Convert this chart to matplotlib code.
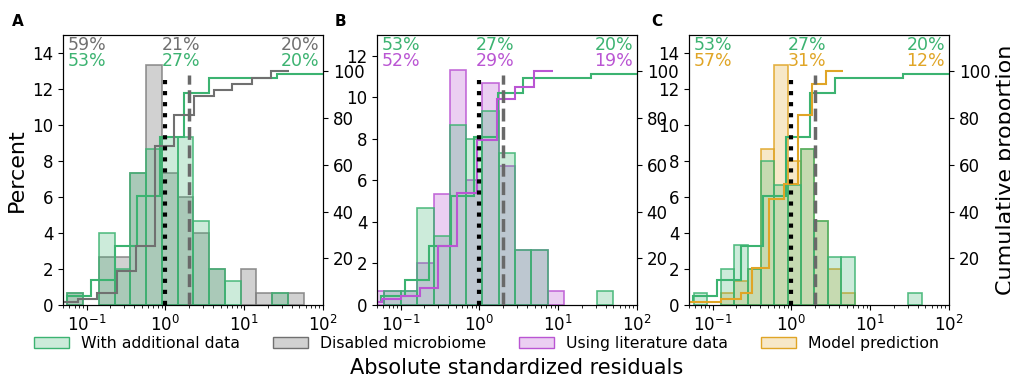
import numpy as np
import matplotlib.pyplot as plt
from matplotlib.colors import to_rgba
from matplotlib.patches import Patch

green = '#3cb371'
grey = '#707070'
purple = '#ba55d3'
orange = '#e0a526'

# panel A: common bin edges, percent per bin
edges_a = [0.0569, 0.0902, 0.143, 0.226, 0.359, 0.569, 0.902, 1.43, 2.26, 3.59,
           5.69, 9.02, 14.3, 22.6, 35.9, 56.9]
green_a = [0.67, 0, 4.0, 2.0, 7.33, 8.67, 9.33, 9.33, 4.67, 2.0, 1.33, 0, 0, 0.67, 0]
grey_a = [0.67, 0, 2.67, 2.67, 7.33, 13.33, 7.33, 6.0, 4.0, 2.0, 0, 2.0, 0.67, 0.67, 0.67]

# panel B
edges_b = [0.0386, 0.0622, 0.100, 0.162, 0.261, 0.420, 0.677, 1.09, 1.76, 2.84,
           4.57, 7.36, 11.9, 19.1, 30.8, 49.7]
green_b = [0, 0.67, 0.67, 4.67, 3.33, 8.67, 8.0, 9.33, 7.33, 2.67, 2.67, 0, 0, 0, 0.67]
purple_b = [0.67, 0.67, 0.67, 2.0, 5.33, 11.33, 6.0, 10.67, 6.67, 2.67, 2.67, 0.67, 0, 0, 0]

# panel C
edges_c = [0.0579, 0.0857, 0.127, 0.188, 0.277, 0.410, 0.607, 0.897, 1.33, 1.96,
           2.90, 4.30, 6.35, 9.40, 13.9, 20.6, 30.4, 45.0]
green_c = [0.67, 0, 2.0, 3.33, 2.0, 8.0, 6.67, 6.67, 8.67, 4.67, 2.67, 2.67, 0, 0, 0, 0, 0.67]
orange_c = [0, 0, 0.67, 1.33, 2.0, 8.67, 13.33, 8.0, 8.67, 4.67, 2.0, 0.67, 0, 0, 0, 0, 0]

# cumulative curves (step edges, cumulative percent)
green_cum_x = [0.05, 0.057, 0.113, 0.23, 0.44, 0.85, 1.71, 3.56, 26.3, 100]
green_cum = [1.3, 4.0, 10.7, 25.3, 46.7, 72.0, 90.7, 97.3, 98.7]
grey_cum_x = [0.05, 0.078, 0.136, 0.24, 0.42, 0.74, 1.30, 2.29, 4.12, 7.08, 12.6, 21.9, 37.2]
grey_cum = [1.3, 2.7, 5.3, 14.7, 25.3, 68.0, 81.3, 89.3, 92.0, 94.7, 97.3, 100]
purple_cum_x = [0.05, 0.0575, 0.102, 0.174, 0.295, 0.525, 0.933, 1.66, 2.82, 4.9, 8.71]
purple_cum = [1.3, 2.7, 4.0, 7.3, 25.3, 48.0, 70.7, 88.0, 93.3, 100]
orange_cum_x = [0.05, 0.126, 0.229, 0.316, 0.525, 0.813, 1.20, 1.82, 2.75, 4.47]
orange_cum = [1.3, 2.7, 5.3, 16.0, 45.3, 52.0, 81.3, 94.7, 100]

# fractions below 1, between 1 and 2, above 2
pct_green = ['53%', '27%', '20%']
pct_grey = ['59%', '21%', '20%']
pct_purple = ['52%', '29%', '19%']
pct_orange = ['57%', '31%', '12%']

fig = plt.figure(figsize=(10.1, 3.79), dpi=100)
lefts = [63 / 1010, 377 / 1010, 689 / 1010]
axes = [fig.add_axes([l, 0.1953, 0.2574, 0.7124]) for l in lefts]


def hist(ax, edges, vals, color, fa):
    e = np.array(edges)
    v = np.array(vals)
    keep = v > 0
    ax.bar(e[:-1][keep], v[keep], width=np.diff(e)[keep], align='edge',
           facecolor=to_rgba(color, fa), edgecolor=to_rgba(color, 0.85), linewidth=1.2)


panels = [
    (edges_a, green_a, grey_a, 'grey', 0.36, grey, grey_cum_x, grey_cum, pct_grey, 15, True),
    (edges_b, green_b, purple_b, purple, 0.28, purple, purple_cum_x, purple_cum, pct_purple, 13, False),
    (edges_c, green_c, orange_c, orange, 0.25, orange, orange_cum_x, orange_cum, pct_orange, 15, False),
]

for i, (ax, p) in enumerate(zip(axes, panels)):
    edges, gv, ov, ocol, ofa, lcol, cx, cy, opct, ytop, other_first = p
    hist(ax, edges, ov, ocol, ofa)
    hist(ax, edges, gv, green, 0.26)
    ax.set_xscale('log')
    ax.set_xlim(0.05, 100)
    ax.set_ylim(0, ytop)
    ax.set_yticks(np.arange(0, ytop, 2))
    ax.tick_params(labelsize=12)

    ax2 = ax.twinx()
    ax2.set_ylim(0, 115.6)
    ax2.set_yticks([20, 40, 60, 80, 100])
    ax2.tick_params(labelsize=12)
    ax2.axvline(1, ymax=0.85, color='black', ls=':', lw=3)
    ax2.axvline(2, ymax=0.85, color='dimgray', ls='--', lw=2.5)
    ax2.stairs(green_cum, green_cum_x, baseline=None, color=green, lw=1.5)
    ax2.stairs(cy, cx, baseline=None, color=lcol, lw=1.5)

    if other_first:
        rows = [(opct, lcol), (pct_green, green)]
    else:
        rows = [(pct_green, green), (opct, lcol)]
    for (labels, col), yy in zip(rows, [0.963, 0.905]):
        ax2.text(0.018, yy, labels[0], transform=ax2.transAxes, color=col,
                 fontsize=12.5, va='center', ha='left')
        ax2.text(0.9, yy, labels[1], transform=ax2.get_xaxis_transform(), color=col,
                 fontsize=12.5, va='center', ha='left')
        ax2.text(0.985, yy, labels[2], transform=ax2.transAxes, color=col,
                 fontsize=12.5, va='center', ha='right')
    if i == 2:
        ax2.set_ylabel('Cumulative proportion', fontsize=16)

axes[0].set_ylabel('Percent', fontsize=16)

for x, letter in zip([0.018, 0.337, 0.650], 'ABC'):
    fig.text(x, 0.942, letter, fontsize=11, fontweight='bold', ha='center', va='center')

handles = [
    Patch(facecolor=to_rgba(green, 0.26), edgecolor=green),
    Patch(facecolor=to_rgba('grey', 0.36), edgecolor=grey),
    Patch(facecolor=to_rgba(purple, 0.28), edgecolor=purple),
    Patch(facecolor=to_rgba(orange, 0.25), edgecolor=orange),
]
labels = ['With additional data', 'Disabled microbiome', 'Using literature data', 'Model prediction']
fig.legend(handles, labels, loc='center', bbox_to_anchor=(0.482, 0.093), ncol=4,
           frameon=False, fontsize=11.3, handlelength=2.2, columnspacing=2.1)
fig.text(0.512, 0.03, 'Absolute standardized residuals', fontsize=15, ha='center', va='center')

fig.savefig('out.png', dpi=100)
